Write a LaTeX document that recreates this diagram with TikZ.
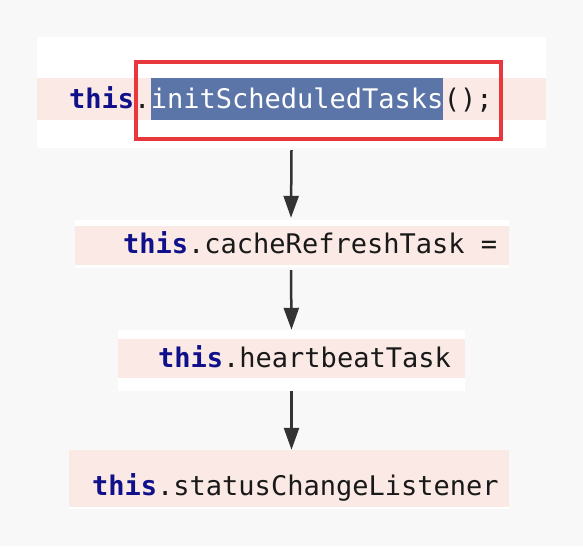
\documentclass[tikz,border=0pt]{standalone}
\usepackage{fontspec}
\setmonofont{DejaVu Sans Mono}
\usepackage{tikz}
\usetikzlibrary{
	arrows.meta,
	positioning
}
\definecolor{bgGray}{HTML}{F8F8F8}
\definecolor{linePink}{HTML}{FAE9E4}
\definecolor{selBlue}{HTML}{5B75A9}
\definecolor{boxRed}{HTML}{E8383D}
\definecolor{kwNavy}{HTML}{10108A}
\definecolor{arrGray}{HTML}{333333}
\newcommand{\kw}{\textcolor{kwNavy}{\textbf{this}}}

\begin{document}
\begin{tikzpicture}[
			x=1pt, y=-1pt,
			panel/.style={
				rectangle,
				fill=white,
				inner sep=0pt
			},
			strip/.style={
				rectangle,
				fill=linePink,
				inner sep=0pt
			},
			code/.style={
				anchor=base west,
				inner sep=0pt,
				text=black!90,
				font=\fontsize{27pt}{32pt}\selectfont\ttfamily
			},
			sel/.style={
				code,
				fill=selBlue,
				text=white,
				text height=30pt,
				text depth=12pt
			},
			arr/.style={
				draw=arrGray,
				line width=2.5pt,
				-{Triangle[length=22pt,width=15pt]}
			}
			]
			
			\useasboundingbox[fill=bgGray] (0,0) rectangle (583,546);
			
			% code panels
			\node[panel, minimum width=509pt, minimum height=111pt] (p1) at (291.5,92.5) {};
			\node[strip, minimum width=509pt, minimum height=42pt] (s1) at (291.5,99) {};
			
			\node[panel, minimum width=434pt, minimum height=48pt] (p2) at (292,244) {};
			\node[strip, minimum width=434pt, minimum height=39pt] (s2) at (292,245.5) {};
			
			\node[panel, minimum width=347pt, minimum height=61pt] (p3) at (291.5,360.5) {};
			\node[strip, minimum width=347pt, minimum height=39pt] (s3) at (291.5,358.5) {};
			
			\node[panel, minimum width=440pt, minimum height=59pt] (p4) at (289,479.5) {};
			\node[strip, minimum width=440pt, minimum height=57pt] (s4) at (289,478.5) {};
			
			% code lines
			\node[code] (this1) at (69,108) {\kw.};
			\node[sel] (call) at (this1.base east) {initScheduledTasks};
			\node[code] (paren) at (call.base east) {();};
			\draw[boxRed, line width=3.5pt] (136,62) rectangle (501,139);
			
			\node[code] (line2) at (123,253) {\kw.cacheRefreshTask =};
			\node[code] (line3) at (158,367) {\kw.heartbeatTask};
			\node[code] (line4) at (92,495) {\kw.statusChangeListener};
			
			\draw[arr] ([yshift=-2pt]p1.south) -- ([xshift=-1pt,yshift=2pt]p2.north);
			\draw[arr] ([xshift=-1pt,yshift=-2pt]p2.south) -- (p3.north);
			\draw[arr] (p3.south) -- (p3.south |- p4.north);
			
		\end{tikzpicture}
\end{document}
